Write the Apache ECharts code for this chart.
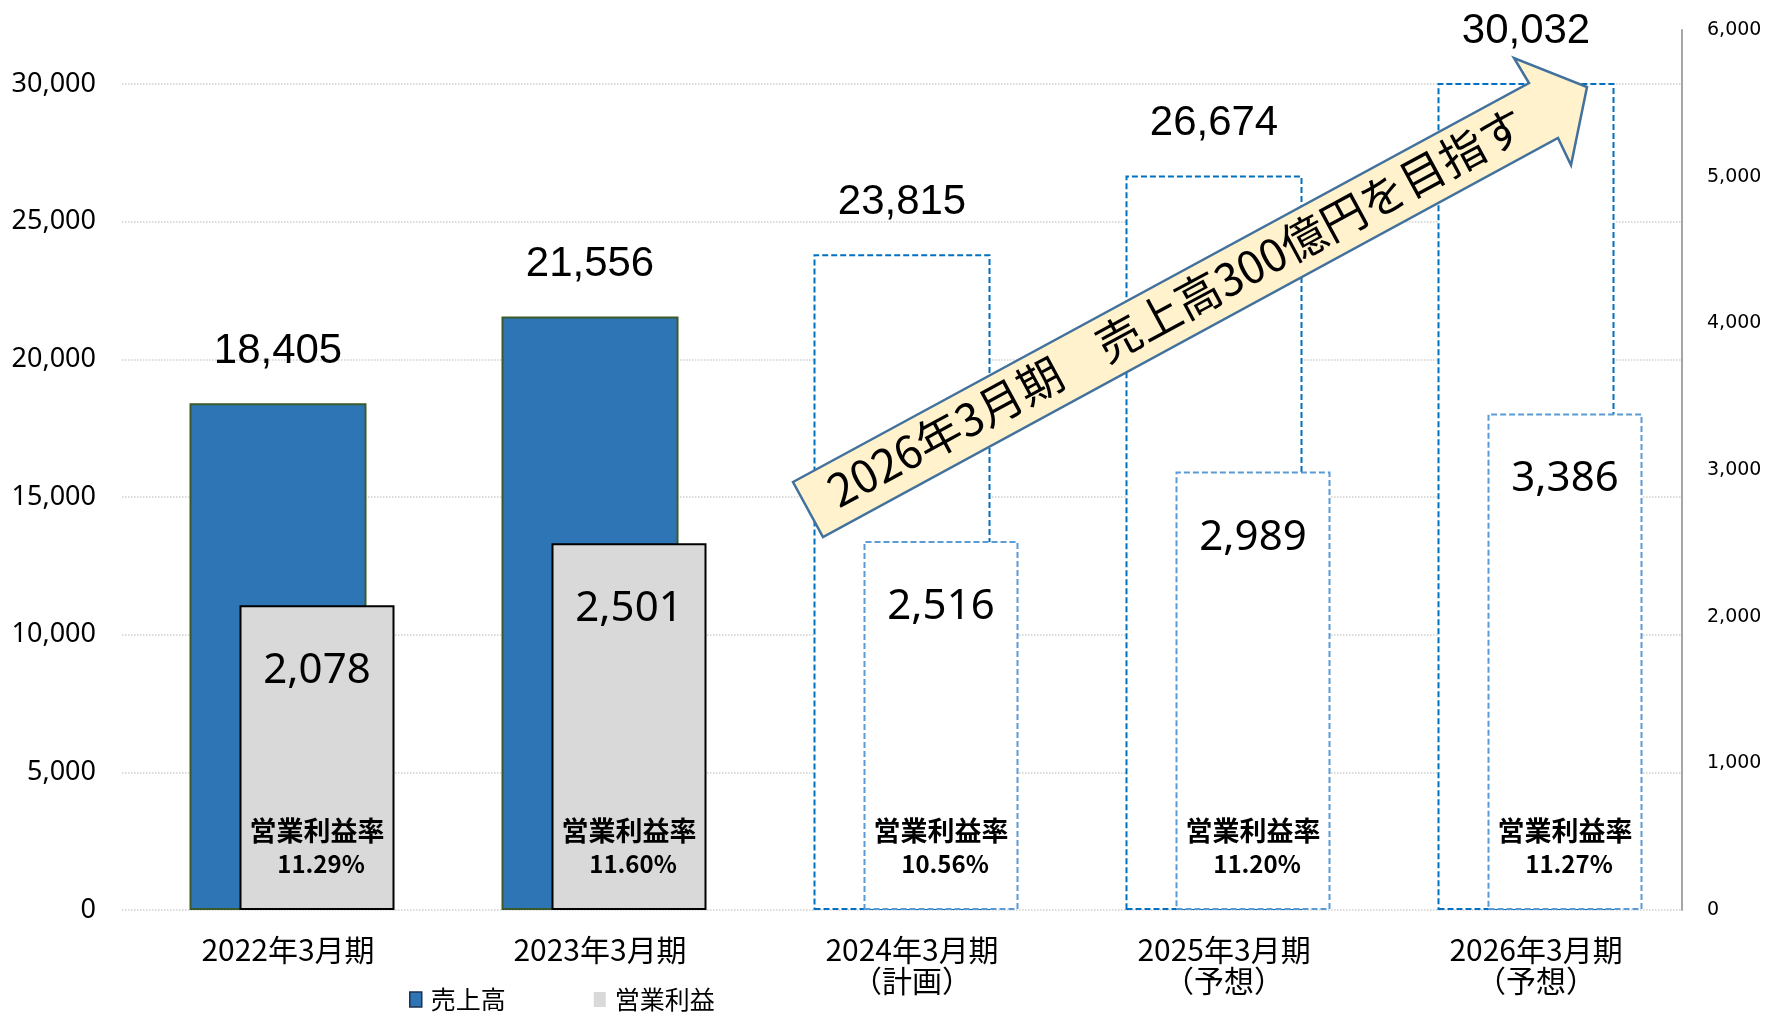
<!DOCTYPE html>
<html>
<head>
<meta charset="utf-8">
<title>売上高・営業利益</title>
<script src="https://cdn.jsdelivr.net/npm/echarts@6/dist/echarts.min.js"></script>
<style>
html, body { margin: 0; padding: 0; background: #fff; }
#chart { width: 1769px; height: 1013px; }
</style>
</head>
<body>
<div id="chart"></div>
<script>
// データ（単位：百万円）
const categories = ['2022年3月期', '2023年3月期', '2024年3月期\n（計画）', '2025年3月期\n（予想）', '2026年3月期\n（予想）']
const sales = [18405, 21556, 23815, 26674, 30032]
const profit = [2078, 2501, 2516, 2989, 3386]
const profitRate = ['11.29', '11.60', '10.56', '11.20', '11.27']
const planStart = 2 // ここから計画・予想（点線の枠）
const salesAxis = { min: 0, max: 30000, interval: 5000 }
const profitAxis = { min: 0, max: 6000, interval: 1000 }
const arrowText = '2026年3月期　売上高300億円を目指す'

const jpFont = `'Noto Sans CJK JP', 'Noto Sans', sans-serif`
const fmt = v => Number(v).toLocaleString('en-US')

const salesActual = { color: '#2E75B6', borderColor: '#3B5A2B', borderWidth: 2 }
const salesPlan = { color: '#fff', borderColor: '#0070C0', borderWidth: 2, borderType: [6, 3] }
const profitActual = { color: '#D9D9D9', borderColor: '#000', borderWidth: 2 }
const profitPlan = { color: '#fff', borderColor: '#5B9BD5', borderWidth: 2, borderType: [6, 3] }

const chart = echarts.init(document.getElementById('chart'))

const option = {
  animation: false,
  backgroundColor: '#fff',
  grid: [
    // 売上高（左軸）
    { left: 122, right: 87, top: 84, bottom: 103 },
    // 営業利益（右軸）: 売上高の棒から右へずらす
    { left: 161, right: 48, top: 30, bottom: 103 }
  ],
  legend: {
    left: 404,
    top: 982,
    icon: 'rect',
    itemWidth: 12,
    itemHeight: 15,
    itemGap: 88,
    selectedMode: false,
    textStyle: { color: '#000', fontSize: 25, fontFamily: jpFont, padding: [0, 0, 0, 4] },
    data: [
      { name: '売上高', itemStyle: { color: '#2E75B6', borderColor: '#1F2F4F', borderWidth: 1.5 } },
      { name: '営業利益', itemStyle: { color: '#D9D9D9', borderWidth: 0 } }
    ]
  },
  xAxis: [
    {
      type: 'category',
      gridIndex: 0,
      data: categories,
      axisLine: { show: false },
      axisTick: { show: false },
      axisLabel: {
        color: '#000',
        fontSize: 30,
        lineHeight: 31,
        margin: 24,
        fontFamily: jpFont,
        padding: [0, 0, 0, 20]
      }
    },
    { type: 'category', gridIndex: 1, data: categories, show: false }
  ],
  yAxis: [
    {
      type: 'value',
      gridIndex: 0,
      min: salesAxis.min,
      max: salesAxis.max,
      interval: salesAxis.interval,
      axisLine: { show: false },
      axisTick: { show: false },
      splitLine: { lineStyle: { color: '#D0D0D0', type: 'dotted', width: 1.5 } },
      axisLabel: {
        color: '#000',
        fontSize: 27,
        margin: 26,
        fontFamily: `'Noto Sans', sans-serif`,
        formatter: fmt
      }
    },
    {
      type: 'value',
      gridIndex: 1,
      position: 'right',
      offset: -39,
      min: profitAxis.min,
      max: profitAxis.max,
      interval: profitAxis.interval,
      axisLine: { show: true, lineStyle: { color: '#A6A6A6', width: 2 } },
      axisTick: { show: false },
      splitLine: { show: false },
      axisLabel: {
        color: '#000',
        fontSize: 19,
        margin: 25,
        fontFamily: `'DejaVu Sans', sans-serif`,
        formatter: fmt
      }
    }
  ],
  series: [
    {
      name: '売上高',
      type: 'bar',
      xAxisIndex: 0,
      yAxisIndex: 0,
      barWidth: 177,
      itemStyle: salesActual,
      label: {
        show: true,
        position: 'top',
        distance: 31,
        color: '#000',
        fontSize: 42,
        fontFamily: `'Liberation Sans', Arial, sans-serif`,
        formatter: p => fmt(p.value)
      },
      data: sales.map((v, i) => i >= planStart ? { value: v, itemStyle: salesPlan } : v)
    },
    {
      name: '営業利益',
      type: 'bar',
      xAxisIndex: 1,
      yAxisIndex: 1,
      barWidth: 155,
      barGap: '-100%',
      itemStyle: profitActual,
      label: {
        show: true,
        position: 'insideTop',
        distance: 45,
        color: '#000',
        fontSize: 42,
        textBorderWidth: 0,
        fontFamily: `'Noto Sans', sans-serif`,
        formatter: p => fmt(p.value)
      },
      data: profit.map((v, i) => i >= planStart ? { value: v, itemStyle: profitPlan } : v)
    },
    {
      // 営業利益率の表示だけ（透明の棒）
      name: '営業利益率',
      type: 'bar',
      xAxisIndex: 1,
      yAxisIndex: 1,
      barWidth: 155,
      barGap: '-100%',
      silent: true,
      itemStyle: { color: 'rgba(0,0,0,0)', borderWidth: 0 },
      label: {
        show: true,
        position: 'insideBottom',
        distance: 30,
        color: '#000',
        textBorderWidth: 0,
        formatter: p => '{t|営業利益率}\n{r|' + profitRate[p.dataIndex] + '%}',
        rich: {
          t: { fontSize: 27, fontWeight: 'bold', lineHeight: 34, fontFamily: jpFont, color: '#000' },
          r: { fontSize: 24, fontWeight: 'bold', lineHeight: 32, fontFamily: jpFont, color: '#000', padding: [0, 0, 0, 8] }
        }
      },
      data: profit
    }
  ],
  graphic: [
    {
      type: 'polygon',
      z: 100,
      shape: {
        points: [
          [793, 482], [1529, 83], [1514, 58], [1587, 87],
          [1571, 165], [1558, 138], [823, 537]
        ]
      },
      style: { fill: '#FFF2CC', stroke: '#41719C', lineWidth: 2.5 }
    },
    {
      type: 'text',
      z: 101,
      x: 1176,
      y: 307,
      rotation: 28.4 * Math.PI / 180,
      style: {
        text: arrowText,
        fill: '#000',
        fontSize: 45,
        fontFamily: jpFont,
        align: 'center',
        verticalAlign: 'middle'
      }
    }
  ]
}

chart.setOption(option)
</script>
</body>
</html>
